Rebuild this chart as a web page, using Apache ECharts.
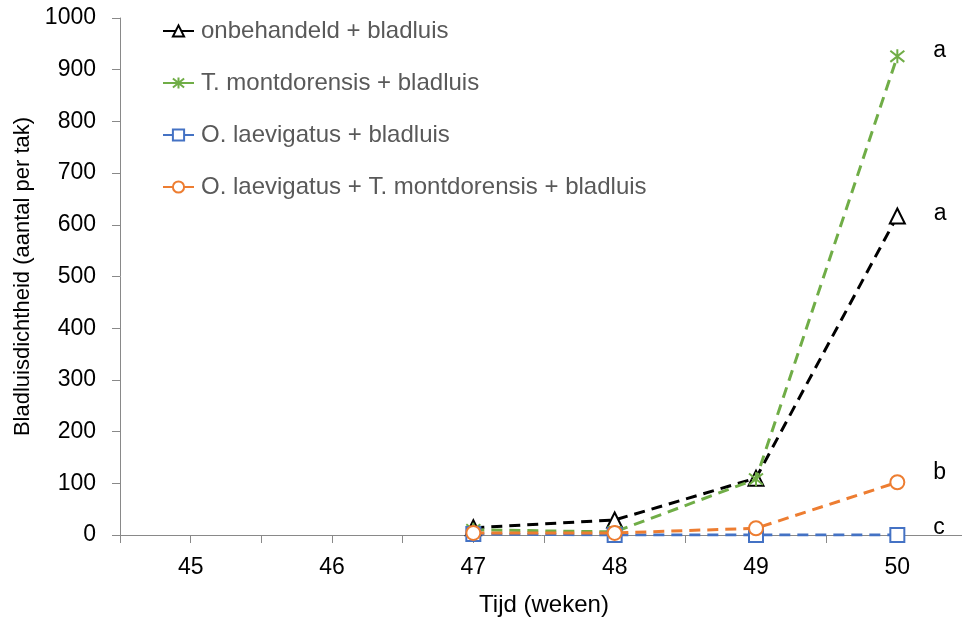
<!DOCTYPE html>
<html>
<head>
<meta charset="utf-8">
<script src="https://cdn.jsdelivr.net/npm/echarts@6/dist/echarts.min.js"></script>
<style>
html,body{margin:0;padding:0;background:#fff;}
#chart{width:962px;height:625px;}
</style>
</head>
<body>
<div id="chart"></div>
<script>
const weeks = [47, 48, 49, 50];
const xTickLabels = [45, 46, 47, 48, 49, 50];
const seriesNames = [
  'onbehandeld + bladluis',
  'T. montdorensis + bladluis',
  'O. laevigatus + bladluis',
  'O. laevigatus + T. montdorensis + bladluis'
];
const onbehandeld = [14, 29, 110, 617];
const tMontdorensis = [10, 6, 108, 926];
const oLaevigatus = [2, 0, 0, 0];
const oLaevTMont = [4, 4, 13, 102];
const letters = ['a', 'a', 'c', 'b'];

const FONT = 'Liberation Sans, Arial, Helvetica, sans-serif';
const colors = ['#000000', '#70AD47', '#4472C4', '#ED7D31'];
const symbols = [
  'emptyTriangle',
  'path://M0,-1L0,1M-0.8,-0.8L0.8,0.8M-0.8,0.8L0.8,-0.8',
  'emptyRect',
  'emptyCircle'
];
const symbolSizes = [15, 14, 14, 14];
const labelOffsets = [[0, -2], [0, -6], [0, -7], [0, -10]];
const values = [onbehandeld, tMontdorensis, oLaevigatus, oLaevTMont];

const series = values.map((vals, s) => ({
  name: seriesNames[s],
  type: 'line',
  symbol: symbols[s],
  symbolSize: symbolSizes[s],
  showAllSymbol: true,
  color: colors[s],
  lineStyle: { color: colors[s], width: 3, type: [11, 7] },
  itemStyle: { color: colors[s], borderColor: colors[s], borderWidth: 2 },
  emphasis: { disabled: true },
  z: 2 + s,
  data: vals.map((v, i) => {
    const d = { value: [weeks[i], v] };
    if (i === vals.length - 1) {
      d.label = {
        show: true,
        position: 'right',
        distance: 28,
        offset: labelOffsets[s],
        formatter: letters[s],
        color: '#000',
        fontSize: 23,
        fontFamily: FONT
      };
    }
    return d;
  })
}));

const chart = echarts.init(document.getElementById('chart'), null, { renderer: 'canvas' });
chart.setOption({
  animation: false,
  backgroundColor: '#ffffff',
  grid: { left: 120, top: 18, width: 848, bottom: 90, containLabel: false, outerBoundsMode: 'none' },
  legend: {
    orient: 'vertical',
    left: 157,
    top: 14,
    itemWidth: 31,
    itemHeight: 14,
    itemGap: 28,
    data: seriesNames,
    lineStyle: { type: 'solid', width: 2 },
    textStyle: { fontSize: 24, color: '#595959', fontFamily: FONT, padding: [0, 0, 0, 2] }
  },
  xAxis: {
    type: 'value',
    min: 44.5,
    max: 50.5,
    interval: 0.5,
    name: 'Tijd (weken)',
    nameLocation: 'middle',
    nameGap: 58,
    nameTextStyle: { fontSize: 24, color: '#000', fontFamily: FONT },
    axisLine: { show: true, onZero: false, lineStyle: { color: '#898989', width: 1 } },
    axisTick: { show: true, length: 8, lineStyle: { color: '#898989' } },
    splitLine: { show: false },
    axisLabel: {
      fontSize: 23, color: '#000', fontFamily: FONT, margin: 21,
      showMinLabel: true, showMaxLabel: true,
      formatter: v => (xTickLabels.indexOf(v) >= 0 ? String(v) : '')
    }
  },
  yAxis: {
    type: 'value',
    min: 0,
    max: 1000,
    interval: 100,
    name: 'Bladluisdichtheid (aantal per tak)',
    nameLocation: 'middle',
    nameGap: 86,
    nameTextStyle: { fontSize: 22, color: '#000', fontFamily: FONT },
    axisLine: { show: true, lineStyle: { color: '#898989', width: 1 } },
    axisTick: { show: true, length: 8, lineStyle: { color: '#898989' } },
    splitLine: { show: false },
    axisLabel: { fontSize: 23, color: '#000', fontFamily: FONT, margin: 24, formatter: v => String(v) }
  },
  series: series
});
</script>
</body>
</html>
